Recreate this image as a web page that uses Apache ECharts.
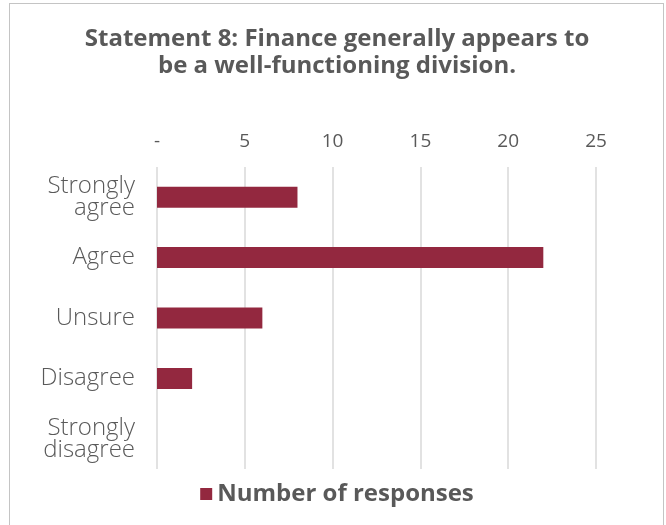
<!DOCTYPE html>
<html>
<head>
<meta charset="utf-8">
<script src="https://cdn.jsdelivr.net/npm/echarts@6/dist/echarts.min.js"></script>
<style>
  html, body { margin: 0; padding: 0; background: #ffffff; }
  #frame {
    position: absolute; left: 9px; top: 3px; width: 655px; height: 540px;
    border: 1.5px solid #c4c4c4; box-sizing: border-box; background: #fff;
  }
  #chart { position: absolute; left: 10px; top: 0; width: 654px; height: 525px; }
</style>
</head>
<body>
<div id="frame"></div>
<div id="chart"></div>
<script>
// Survey responses for statement 8
const titleText = 'Statement 8: Finance generally appears to\nbe a well-functioning division.';
const categories = ['Strongly\nagree', 'Agree', 'Unsure', 'Disagree', 'Strongly\ndisagree'];
const responses = [8, 22, 6, 2, 0];
const seriesName = 'Number of responses';
const tickLabels = { 0: '-', 5: '5', 10: '10', 15: '15', 20: '20', 25: '25' };

const barColor = '#93283f';
const textGrey = '#595959';
const fontFamily = '"Open Sans", "Noto Sans", sans-serif';

const chart = echarts.init(document.getElementById('chart'), null, { renderer: 'canvas' });
chart.setOption({
  backgroundColor: 'transparent',
  animation: false,
  title: {
    text: titleText,
    left: 'center',
    top: 21,
    textStyle: {
      fontFamily: fontFamily,
      fontWeight: 'bold',
      fontSize: 24,
      lineHeight: 27,
      color: textGrey
    }
  },
  legend: {
    bottom: 14,
    left: 'center',
    itemWidth: 12,
    itemHeight: 12,
    itemGap: 8,
    icon: 'rect',
    data: [seriesName],
    textStyle: {
      fontFamily: fontFamily,
      fontWeight: 'bold',
      fontSize: 24,
      color: textGrey
    }
  },
  grid: { left: 147, right: 68, top: 167, bottom: 56, containLabel: false },
  xAxis: {
    type: 'value',
    position: 'top',
    min: 0,
    max: 25,
    interval: 5,
    axisLine: { show: false },
    axisTick: { show: false },
    axisLabel: {
      margin: 16,
      fontFamily: fontFamily,
      fontSize: 19,
      color: textGrey,
      formatter: v => tickLabels[v] !== undefined ? tickLabels[v] : String(v)
    },
    splitLine: { show: true, lineStyle: { color: '#d9d9d9', width: 1.5 } }
  },
  yAxis: {
    type: 'category',
    inverse: true,
    data: categories,
    axisLine: { show: false },
    axisTick: { show: false },
    axisLabel: {
      margin: 22,
      align: 'right',
      padding: [6, 0, 0, 0],
      fontFamily: fontFamily,
      fontWeight: 300,
      fontSize: 24,
      lineHeight: 22,
      color: textGrey
    }
  },
  series: [{
    name: seriesName,
    type: 'bar',
    data: responses,
    barWidth: 21,
    itemStyle: { color: barColor }
  }]
});
</script>
</body>
</html>
